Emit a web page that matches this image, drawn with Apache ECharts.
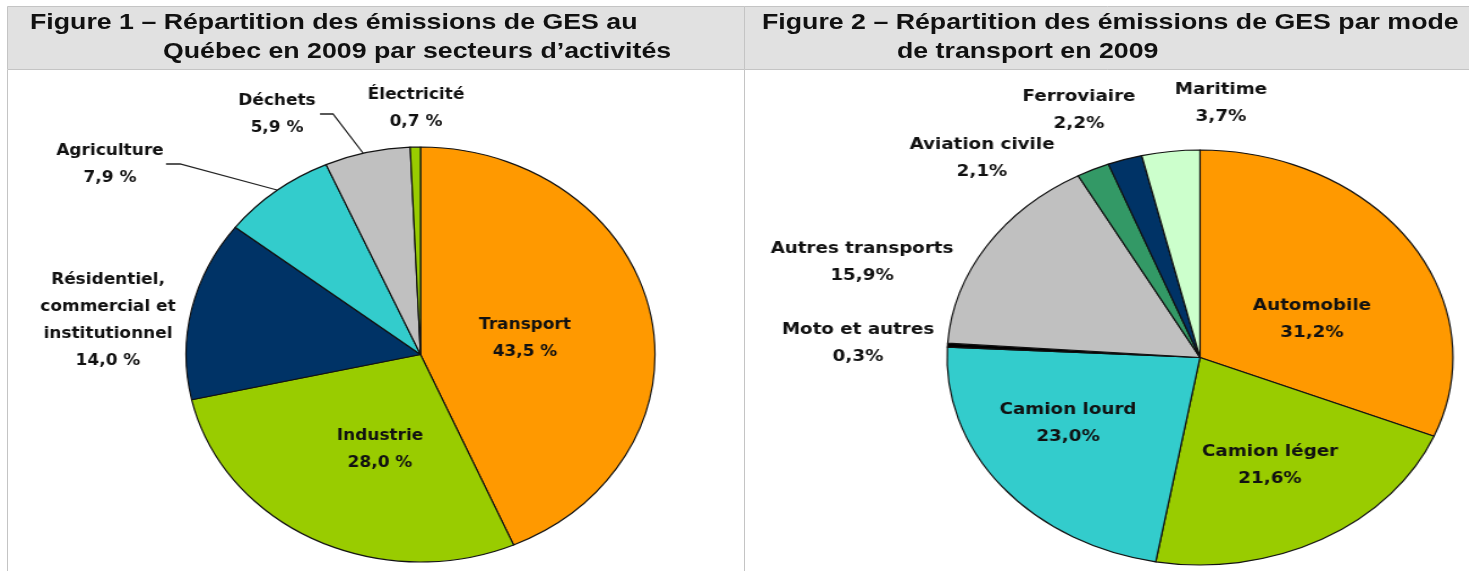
<!DOCTYPE html>
<html>
<head>
<meta charset="utf-8">
<script src="https://cdn.jsdelivr.net/npm/echarts@6/dist/echarts.min.js"></script>
<style>
  body { margin: 0; background: #fff; }
  #frame { position: absolute; left: 0; top: 0; width: 1469px; height: 571px; }
  #pie1, #pie2 { position: absolute; top: 64px; height: 507px; transform-origin: 0 0; }
  #pie1 { left: 8px; width: 652px; transform: scaleX(1.13); }
  #pie2 { left: 746px; width: 594px; transform: scaleX(1.219); }
</style>
</head>
<body>
<div id="frame"></div>
<div id="pie1"></div>
<div id="pie2"></div>
<script>
// figure 1 : secteurs d'activités
const secteurs = ["Transport", "Industrie", "Résidentiel,\ncommercial et\ninstitutionnel", "Agriculture", "Déchets", "Électricité"]
const secteursVal = [43.5, 28.0, 14.0, 7.9, 5.9, 0.7]
// figure 2 : modes de transport
const modes = ["Automobile", "Camion léger", "Camion lourd", "Moto et autres", "Autres transports", "Aviation civile", "Ferroviaire", "Maritime"]
const modesVal = [31.2, 21.6, 23.0, 0.3, 15.9, 2.1, 2.2, 3.7]

const titre1 = ["Figure 1 – Répartition des émissions de GES au", "Québec en 2009 par secteurs d’activités"]
const titre2 = ["Figure 2 – Répartition des émissions de GES par mode", "de transport en 2009"]

// styles
const couleurs1 = ["#ff9900", "#99cc00", "#003366", "#33cccc", "#c0c0c0", "#99cc00"]
const couleurs2 = ["#ff9900", "#99cc00", "#33cccc", "#000000", "#c0c0c0", "#339966", "#003366", "#ccffcc"]
// centres des étiquettes, en pixels de la page
const etiq1 = [[525, 339], [380, 450], [108, 321], [110, 165], [277, 115], [416, 109]]
const etiq2 = [[1312, 320], [1270, 466], [1068, 424], [858, 344], [862, 263], [982, 159], [1079, 111], [1221, 104]]
const lignes1 = { 3: [[277, 190], [180, 164], [166, 164]], 4: [[363, 153], [333, 114], [320, 114]] }

const frame = echarts.init(document.getElementById("frame"))
const titreTexte = (txt, x, y) => ({
  type: "text", x: x, y: y, scaleX: 1.215,
  style: { text: txt, fontFamily: "Liberation Sans", fontWeight: "bold", fontSize: 22, fill: "#111", verticalAlign: "middle" }
})
frame.setOption({
  animation: false,
  graphic: [
    { type: "rect", shape: { x: 7.5, y: 6.5, width: 737, height: 63 }, style: { fill: "#e1e1e1", stroke: "#c4c4c4", lineWidth: 1 } },
    { type: "rect", shape: { x: 744.5, y: 6.5, width: 740, height: 63 }, style: { fill: "#e1e1e1", stroke: "#c4c4c4", lineWidth: 1 } },
    { type: "line", shape: { x1: 7.5, y1: 70, x2: 7.5, y2: 571 }, style: { stroke: "#c4c4c4", lineWidth: 1 } },
    { type: "line", shape: { x1: 744.5, y1: 70, x2: 744.5, y2: 571 }, style: { stroke: "#c4c4c4", lineWidth: 1 } },
    titreTexte(titre1[0], 30, 23),
    titreTexte(titre1[1], 163, 52),
    titreTexte(titre2[0], 762, 23),
    titreTexte(titre2[1], 897, 52)
  ]
})

const initPie = (id, noms, valeurs, couleurs, etiq, lignes, left, s, cx, cy, suffixe) => {
  const chart = echarts.init(document.getElementById(id))
  const data = noms.map((n, i) => ({
    name: n,
    value: valeurs[i],
    itemStyle: { color: couleurs[i] },
    labelLine: { show: !!lignes[i] }
  }))
  chart.setOption({
    animation: false,
    series: [
      {
        type: "pie",
        center: [(cx - left) / s, cy - 64],
        radius: 207.5,
        startAngle: 90,
        clockwise: true,
        avoidLabelOverlap: false,
        itemStyle: { borderColor: "#111", borderWidth: 1.2 },
        label: {
          position: "outside",
          color: "#111",
          fontFamily: "DejaVu Sans",
          fontWeight: "bold",
          fontSize: 15,
          lineHeight: 27,
          align: "center",
          formatter: (p) => p.name + "\n" + p.value.toFixed(1).replace(".", ",") + suffixe
        },
        labelLine: { lineStyle: { color: "#222", width: 1.3 } },
        labelLayout: (p) => {
          const e = etiq[p.dataIndex]
          const out = { x: (e[0] - left) / s, y: e[1] - 64, align: "center", verticalAlign: "middle" }
          const l = lignes[p.dataIndex]
          if (l) out.labelLinePoints = l.map((q) => [(q[0] - left) / s, q[1] - 64])
          return out
        },
        emphasis: { disabled: true },
        data: data
      }
    ]
  })
  return chart
}

initPie("pie1", secteurs, secteursVal, couleurs1, etiq1, lignes1, 8, 1.13, 420.5, 354.5, " %")
initPie("pie2", modes, modesVal, couleurs2, etiq2, {}, 746, 1.219, 1200, 357.5, "%")
</script>
</body>
</html>
